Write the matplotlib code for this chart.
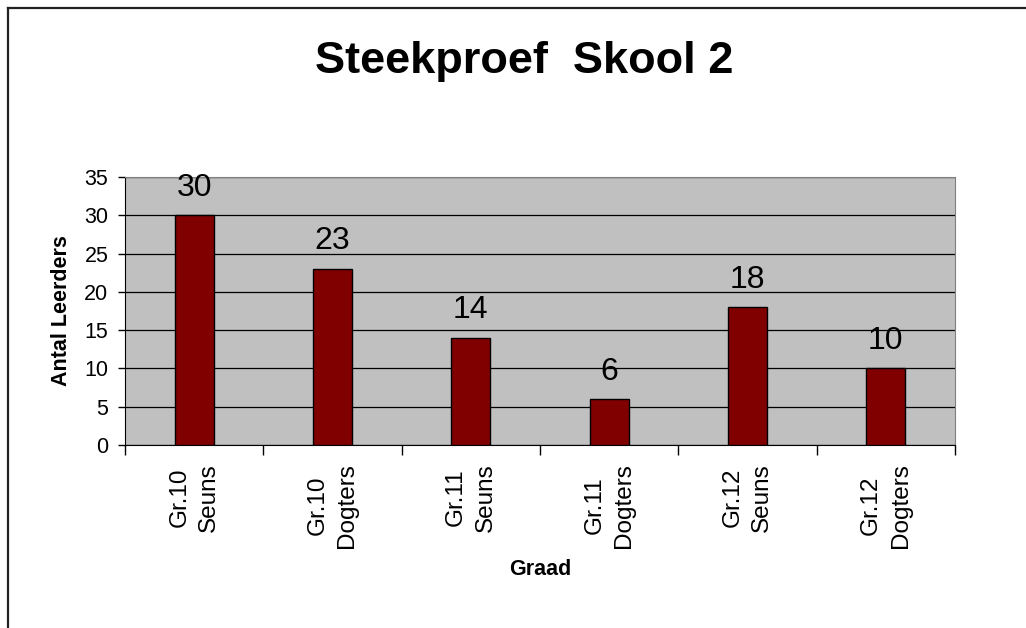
import matplotlib.pyplot as plt
import numpy as np
from matplotlib.lines import Line2D

plt.rcParams['font.family'] = ['Liberation Sans', 'DejaVu Sans']

categories = ['Gr.10\nSeuns', 'Gr.10\nDogters', 'Gr.11\nSeuns',
              'Gr.11\nDogters', 'Gr.12\nSeuns', 'Gr.12\nDogters']
counts = [30, 23, 14, 6, 18, 10]
y_ticks = [0, 5, 10, 15, 20, 25, 30, 35]

W, H = 1026, 628
fig = plt.figure(figsize=(W / 100, H / 100), dpi=100)
ax = fig.add_axes([125 / W, 1 - 445 / H, 830 / W, 268 / H])

x = np.arange(len(categories))
ax.set_facecolor('#c0c0c0')
ax.bar(x, counts, width=0.28, color='#800000', edgecolor='black',
       linewidth=1, zorder=3)

for xi, v in zip(x, counts):
    ax.annotate(str(v), (xi, v), xytext=(0, 14), textcoords='offset points',
                ha='center', va='baseline', fontsize=23)

ax.set_xlim(-0.5, len(categories) - 0.5)
ax.set_ylim(0, 35)
ax.set_yticks(y_ticks)
ax.yaxis.grid(True, color='black', linewidth=0.9, zorder=1)
ax.set_axisbelow(True)

# ticks at category boundaries, labels at centres
ax.set_xticks(np.arange(-0.5, len(categories)), labels=[''] * (len(categories) + 1))
ax.set_xticks(x, labels=categories, minor=True)
ax.tick_params(axis='x', which='major', length=7, width=1, direction='out')
ax.tick_params(axis='x', which='minor', length=0, pad=13, labelsize=17.5,
               labelrotation=90)
for lab in ax.get_xticklabels(minor=True):
    lab.set_va('top')
    lab.set_ha('center')
    lab.set_multialignment('center')
    lab.set_linespacing(1.45)
ax.tick_params(axis='y', length=5, width=1, direction='out', labelsize=15.5,
               pad=7)

for side in ['top', 'right']:
    ax.spines[side].set_color('#808080')
for side in ['left', 'bottom']:
    ax.spines[side].set_color('black')

ax.set_xlabel('Graad', fontsize=15.5, fontweight='bold')
ax.xaxis.set_label_coords(0.5, -0.485)
ax.xaxis.label.set_va('baseline')
ax.set_ylabel('Antal Leerders', fontsize=15.5, fontweight='bold')
ax.yaxis.set_label_coords(-0.076, 0.5)
ax.yaxis.label.set_va('center')

fig.text(524 / W, 1 - 73 / H, 'Steekproef  Skool 2', ha='center',
         va='baseline', fontsize=32.5, fontweight='bold')

# outer frame (left and top edges visible)
fig.add_artist(Line2D([8 / W, 8 / W], [0, 1 - 8 / H], transform=fig.transFigure,
                      color='#222222', linewidth=1.6))
fig.add_artist(Line2D([8 / W, 1], [1 - 8 / H, 1 - 8 / H], transform=fig.transFigure,
                      color='#222222', linewidth=1.6))

fig.savefig('out.png', dpi=100)
